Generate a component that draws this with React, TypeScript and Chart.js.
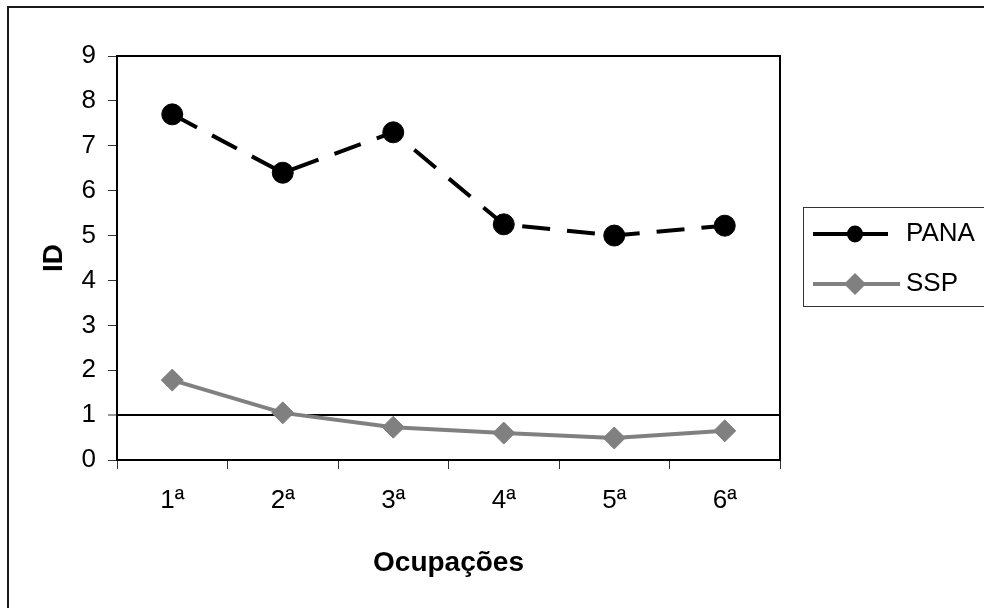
import React, { useEffect, useRef } from "react";
import { Chart, registerables } from "chart.js";

Chart.register(...registerables);

const categories = ["1ª", "2ª", "3ª", "4ª", "5ª", "6ª"];
const panaValues = [7.7, 6.4, 7.3, 5.25, 5.0, 5.22];
const sspValues = [1.78, 1.05, 0.73, 0.6, 0.49, 0.65];
const yMin = 0;
const yMax = 9;
const yStep = 1;
const referenceValue = 1;
const seriesLabels = ["PANA", "SSP"];

const FONT = "'Liberation Sans', Arial, sans-serif";

const framePlugin = {
  id: "frameAndLegend",
  afterDraw(chart: any) {
    const { ctx, chartArea } = chart;
    ctx.save();
    // outer frame
    ctx.strokeStyle = "#1a1a1a";
    ctx.lineWidth = 2;
    ctx.strokeRect(8, 7, 3000, 3000);
    // top and right border of plot area
    ctx.strokeStyle = "#000";
    ctx.lineWidth = 2;
    ctx.beginPath();
    ctx.moveTo(chartArea.left, chartArea.top);
    ctx.lineTo(chartArea.right, chartArea.top);
    ctx.lineTo(chartArea.right, chartArea.bottom);
    ctx.stroke();

    // legend box
    const boxX = 803.5;
    const boxY = 207.5;
    ctx.strokeStyle = "#333";
    ctx.lineWidth = 1;
    ctx.strokeRect(boxX, boxY, 400, 99);

    chart.data.datasets.forEach((ds: any, i: number) => {
      const y = 234 + i * 50;
      const x0 = 813;
      const x1 = i === 0 ? 888 : 900;
      const mx = 855;
      ctx.strokeStyle = ds.borderColor;
      ctx.lineWidth = ds.borderWidth;
      ctx.setLineDash([]);
      ctx.beginPath();
      ctx.moveTo(x0, y);
      ctx.lineTo(x1, y);
      ctx.stroke();
      ctx.fillStyle = ds.pointBackgroundColor;
      ctx.beginPath();
      if (ds.pointStyle === "circle") {
        ctx.ellipse(mx, y, 8, 8.5, 0, 0, Math.PI * 2);
      } else {
        const r = 11;
        ctx.moveTo(mx - r, y);
        ctx.lineTo(mx, y - r);
        ctx.lineTo(mx + r, y);
        ctx.lineTo(mx, y + r);
        ctx.closePath();
      }
      ctx.fill();
      ctx.fillStyle = "#000";
      ctx.font = `26px ${FONT}`;
      ctx.textBaseline = "middle";
      ctx.textAlign = "left";
      ctx.fillText(ds.label, 906, y);
    });
    ctx.restore();
  },
};

export default function App() {
  const ref = useRef<HTMLCanvasElement | null>(null);

  useEffect(() => {
    if (!ref.current) return;
    const chart = new Chart(ref.current, {
      type: "line",
      data: {
        labels: categories,
        datasets: [
          {
            label: seriesLabels[0],
            data: panaValues,
            borderColor: "#000",
            backgroundColor: "#000",
            borderWidth: 4,
            borderDash: [28, 17],
            pointStyle: "circle",
            pointRadius: 10.5,
            pointBackgroundColor: "#000",
            pointBorderColor: "#000",
            pointBorderWidth: 1,
            tension: 0,
            fill: false,
          },
          {
            label: seriesLabels[1],
            data: sspValues,
            borderColor: "#808080",
            backgroundColor: "#808080",
            borderWidth: 4,
            pointStyle: "rectRot",
            pointRadius: 11,
            pointBackgroundColor: "#808080",
            pointBorderColor: "#808080",
            pointBorderWidth: 1,
            tension: 0,
            fill: false,
          },
        ],
      },
      options: {
        animation: false,
        responsive: false,
        events: [],
        layout: { padding: { left: 0, top: 56, right: 204, bottom: 0 } },
        plugins: {
          legend: { display: false },
          tooltip: { enabled: false },
          title: { display: false },
        },
        scales: {
          x: {
            type: "category",
            offset: true,
            afterFit: (s: any) => {
              s.height = 148;
            },
            grid: {
              offset: true,
              drawOnChartArea: false,
              drawTicks: true,
              tickLength: 9,
              color: "#333",
              lineWidth: 1,
            },
            border: { color: "#000", width: 2 },
            ticks: {
              color: "#000",
              font: { family: FONT, size: 26 },
              padding: 16,
              maxRotation: 0,
            },
            title: {
              display: true,
              text: "Ocupações",
              color: "#000",
              font: { family: FONT, size: 28, weight: "bold" },
              padding: { top: 0, bottom: 28 },
            },
          },
          y: {
            min: yMin,
            max: yMax,
            afterFit: (s: any) => {
              s.width = 117;
            },
            grid: {
              drawOnChartArea: true,
              drawTicks: true,
              tickLength: 9,
              color: (c: any) =>
                c.tick && c.tick.value === referenceValue ? "#000" : "rgba(0,0,0,0)",
              lineWidth: (c: any) =>
                c.tick && c.tick.value === referenceValue ? 2 : 1,
              tickColor: "#333",
              tickWidth: 1,
            },
            border: { color: "#000", width: 2 },
            ticks: {
              stepSize: yStep,
              color: "#000",
              font: { family: FONT, size: 26 },
              padding: 12,
            },
            title: {
              display: true,
              text: "ID",
              color: "#000",
              font: { family: FONT, size: 28, weight: "bold" },
              padding: { top: 37, bottom: 0 },
            },
          },
        },
      },
      plugins: [framePlugin],
    } as any);
    return () => chart.destroy();
  }, []);

  return (
    <div style={{ position: "absolute", left: 0, top: 0, width: 984, height: 608, background: "#fff" }}>
      <canvas ref={ref} width={984} height={608} />
    </div>
  );
}
